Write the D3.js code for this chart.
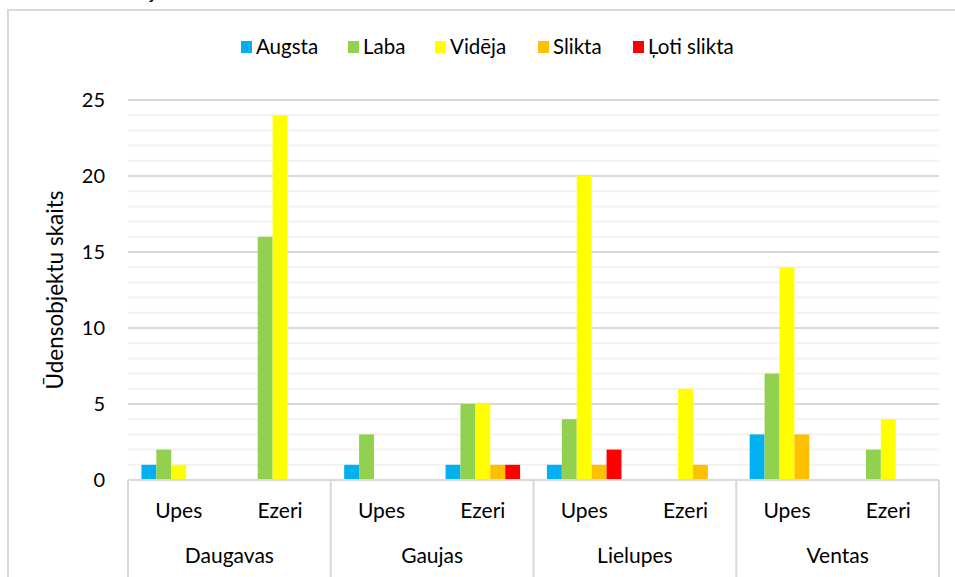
<!DOCTYPE html>
<html>
<head>
<meta charset="utf-8">
<script src="https://cdn.jsdelivr.net/npm/d3@7"></script>
<style>
  body { margin: 0; background: #fff; }
  svg { font-family: Lato, "Open Sans", sans-serif; }
</style>
</head>
<body>
<div id="chart"></div>
<script>
let width = 955, height = 577;

// data
let groups = ["Daugavas", "Gaujas", "Lielupes", "Ventas"];
let subs = ["Upes", "Ezeri"];
let series = ["Augsta", "Laba", "Vidēja", "Slikta", "Ļoti slikta"];
let colors = ["#00B0F0", "#92D050", "#FFFF00", "#FFC000", "#FF0000"];
// one row per group/sub pair, one value per series
let augsta = [1, 0, 1, 1, 1, 0, 3, 0];
let laba   = [2, 16, 3, 5, 4, 0, 7, 2];
let videja = [1, 24, 0, 5, 20, 6, 14, 4];
let slikta = [0, 0, 0, 1, 1, 1, 3, 0];
let lotiSlikta = [0, 0, 0, 1, 2, 0, 0, 0];
let yTicks = [0, 5, 10, 15, 20, 25];

let values = [augsta, laba, videja, slikta, lotiSlikta];

let cats = [];
groups.forEach(g => subs.forEach(s => cats.push(g + "|" + s)));

let svg = d3.select("#chart").append("svg")
    .attr("width", width)
    .attr("height", height);

// chart frame (right/bottom are cut off in the picture)
svg.append("rect")
    .attr("x", 8).attr("y", 10)
    .attr("width", 960).attr("height", 580)
    .attr("fill", "none")
    .attr("stroke", "#d9d9d9")
    .attr("stroke-width", 2);

// bit of a title above the frame, cut off like in the source
svg.append("text")
    .attr("x", 150).attr("y", -1)
    .style("font-size", "20px")
    .text("j");

let plotLeft = 128, plotRight = 939, plotTop = 100, plotBottom = 480;

let y = d3.scaleLinear().domain([0, 25]).range([plotBottom, plotTop]);
let xGroup = d3.scaleBand().domain(groups).range([plotLeft, plotRight]);
let x = d3.scaleBand().domain(cats).range([plotLeft, plotRight]);
let xs = d3.scaleBand().domain(series).range([0, x.bandwidth()]).paddingOuter(0.9).paddingInner(0);

// gridlines
svg.append("g")
    .selectAll("line")
    .data(d3.range(1, 26).filter(d => d % 5 !== 0))
    .enter().append("line")
    .attr("x1", plotLeft).attr("x2", plotRight)
    .attr("y1", d => y(d)).attr("y2", d => y(d))
    .attr("stroke", "#f2f2f2")
    .attr("stroke-width", 2);

svg.append("g")
    .selectAll("line")
    .data(yTicks.slice(1))
    .enter().append("line")
    .attr("x1", plotLeft).attr("x2", plotRight)
    .attr("y1", d => y(d)).attr("y2", d => y(d))
    .attr("stroke", "#d9d9d9")
    .attr("stroke-width", 2);

// bars
series.forEach((s, i) => {
    svg.append("g")
        .selectAll("rect")
        .data(values[i])
        .enter().append("rect")
        .attr("x", (d, j) => x(cats[j]) + xs(s))
        .attr("y", d => y(d))
        .attr("width", xs.bandwidth())
        .attr("height", d => plotBottom - y(d))
        .attr("fill", colors[i]);
});

// y tick labels
svg.append("g")
    .selectAll("text")
    .data(yTicks)
    .enter().append("text")
    .attr("x", 105)
    .attr("y", d => y(d))
    .attr("dy", "0.35em")
    .attr("text-anchor", "end")
    .style("font-size", "20px")
    .text(d => d);

// category axis
svg.append("line")
    .attr("x1", plotLeft).attr("x2", plotRight)
    .attr("y1", plotBottom).attr("y2", plotBottom)
    .attr("stroke", "#d9d9d9").attr("stroke-width", 2);

svg.append("g")
    .selectAll("line")
    .data(groups.concat(["end"]))
    .enter().append("line")
    .attr("x1", d => d === "end" ? plotRight : xGroup(d))
    .attr("x2", d => d === "end" ? plotRight : xGroup(d))
    .attr("y1", plotBottom).attr("y2", height)
    .attr("stroke", "#d9d9d9").attr("stroke-width", 2);

svg.append("g")
    .selectAll("text")
    .data(cats)
    .enter().append("text")
    .attr("x", d => x(d) + x.bandwidth() / 2)
    .attr("y", 518)
    .attr("text-anchor", "middle")
    .style("font-size", "21px")
    .text(d => d.split("|")[1]);

svg.append("g")
    .selectAll("text")
    .data(groups)
    .enter().append("text")
    .attr("x", d => xGroup(d) + xGroup.bandwidth() / 2)
    .attr("y", 563)
    .attr("text-anchor", "middle")
    .style("font-size", "21px")
    .text(d => d);

// y axis title
svg.append("text")
    .attr("transform", "translate(63," + 290 + ") rotate(-90)")
    .attr("text-anchor", "middle")
    .style("font-size", "22.5px")
    .text("Ūdensobjektu skaits");

// legend
let legendX = [241, 348, 435, 538, 633];
let legend = svg.append("g")
    .selectAll("g")
    .data(series)
    .enter().append("g")
    .attr("transform", (d, i) => "translate(" + legendX[i] + ",41)");

legend.append("rect")
    .attr("width", 11).attr("height", 12)
    .attr("fill", (d, i) => colors[i]);

legend.append("text")
    .attr("x", 15).attr("y", 6)
    .attr("dy", "0.35em")
    .style("font-size", "20.5px")
    .text(d => d);
</script>
</body>
</html>
